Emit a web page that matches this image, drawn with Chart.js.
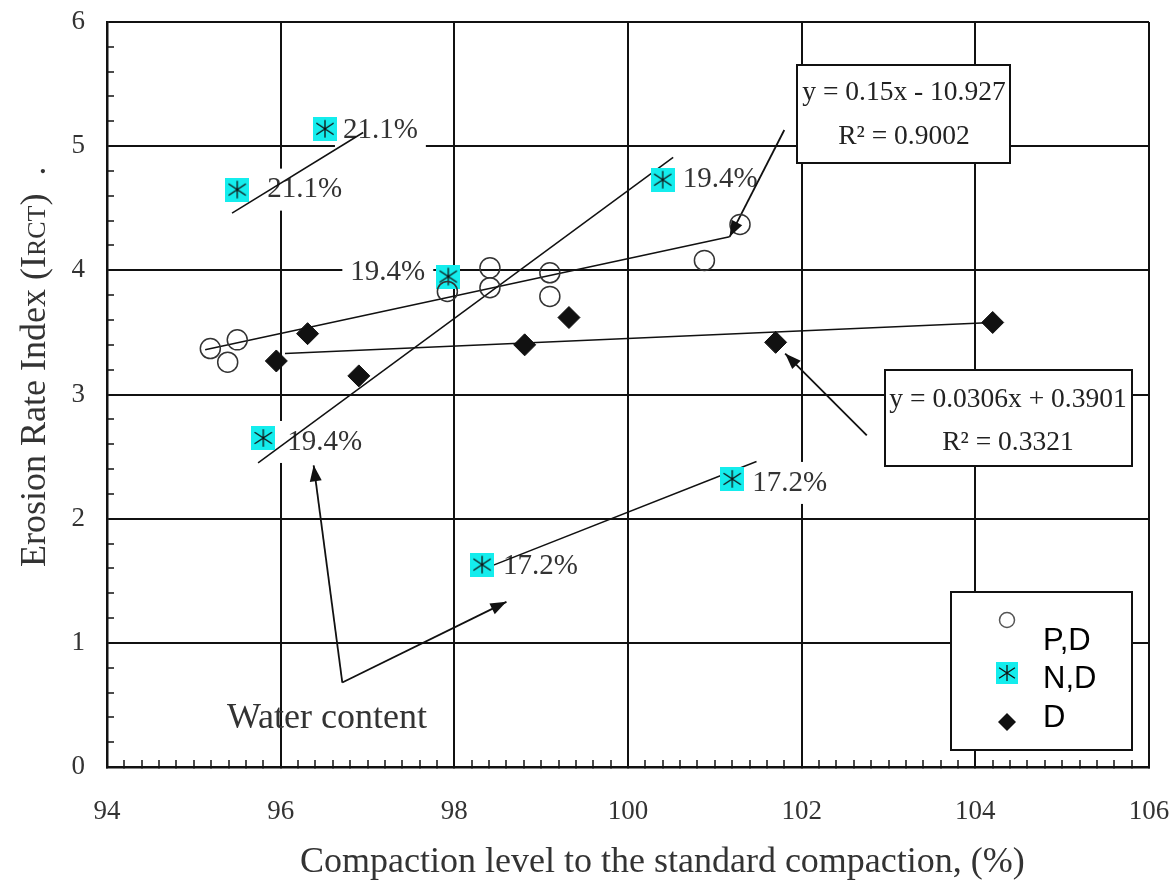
<!DOCTYPE html>
<html>
<head>
<meta charset="utf-8">
<script src="https://cdn.jsdelivr.net/npm/chart.js@4.4.1/dist/chart.umd.min.js"></script>
<style>
  html, body { margin: 0; padding: 0; background: #fff; }
  #wrap { width: 1176px; height: 881px; }
</style>
</head>
<body>
<div id="wrap"><canvas id="chart" width="1176" height="881"></canvas></div>
<script>
// ---- data ----
const pdX = [95.19, 95.39, 95.50, 97.92, 98.41, 98.41, 99.10, 99.10, 100.88, 101.29];
const pdY = [3.37, 3.26, 3.44, 3.83, 4.02, 3.86, 3.98, 3.79, 4.08, 4.37];

const ndX = [96.51, 95.50, 97.93, 100.40, 95.80, 98.32, 101.20];
const ndY = [5.14, 4.65, 3.95, 4.73, 2.65, 1.63, 2.32];
const ndLabel = ['21.1%', '21.1%', '19.4%', '19.4%', '19.4%', '17.2%', '17.2%'];

const dX = [95.95, 96.31, 96.90, 98.81, 99.32, 101.70, 104.20];
const dY = [3.27, 3.49, 3.15, 3.40, 3.62, 3.42, 3.58];

// trend lines, endpoints as drawn in the figure
const pdFitX = [95.13, 101.17], pdFitY = [3.36, 4.27];
const dFitX = [96.05, 104.20], dFitY = [3.33, 3.58];
const nd21X = [95.44, 96.95], nd21Y = [4.46, 5.11];
const nd19X = [95.74, 100.52], nd19Y = [2.45, 4.91];
const nd17X = [98.32, 101.48], nd17Y = [1.59, 2.46];

// callout arrows: [tail, tip]
const arrowPdX = [101.80, 101.17], arrowPdY = [5.13, 4.27];
const arrowDX = [102.75, 101.81], arrowDY = [2.67, 3.33];
const waterAX = [96.71, 96.38], waterAY = [0.68, 2.43];
const waterBX = [96.71, 98.60], waterBY = [0.68, 1.33];

const seriesNames = ['P,D', 'N,D', 'D'];
const eqPd = ['y = 0.15x - 10.927', 'R\u00B2 = 0.9002'];
const eqD = ['y = 0.0306x + 0.3901', 'R\u00B2 = 0.3321'];
const noteText = 'Water content';
const xTitle = 'Compaction level to the standard compaction, (%)';
const yTitleParts = ['Erosion Rate Index (I', 'RCT', ')  .'];
const xRange = [94, 106], yRange = [0, 6];
const xMajor = 2, yMajor = 1, minorStep = 0.2;

// ---- layout / style ----
const SERIF = '"Liberation Serif", "Times New Roman", serif';
const SANS = '"Liberation Sans", Arial, sans-serif';
const INK = '#111';
const TXT = '#333';
const CYAN = '#14eded';
// label offset from its marker centre (px); negative dx = right aligned
const LABEL_OFFSETS = [[18, 2], [30, 0], [-23, -4], [20, 0], [24, 4], [21, 2], [20, 4]];
const BOX_PD = { x: 797, y: 65, w: 213, h: 98, cx: 904, b1: 100, b2: 144 };
const BOX_D = { x: 885, y: 370, w: 247, h: 96, cx: 1008, b1: 407, b2: 450 };
const LEGEND = { x: 951, y: 592, w: 181, h: 158, mx: 1007, tx: 1043 };

const xy = (xs, ys) => xs.map((x, i) => ({ x, y: ys[i] }));
const isMajor = (v, step) => Math.abs(v / step - Math.round(v / step)) < 1e-6;

function ndMarker(size) {
  const c = document.createElement('canvas');
  c.width = size; c.height = size;
  const g = c.getContext('2d');
  g.fillStyle = CYAN;
  g.fillRect(0, 0, size, size);
  g.strokeStyle = INK;
  g.lineWidth = 1.3;
  const m = size / 2, a = size * 0.36, b = size * 0.24;
  g.beginPath();
  g.moveTo(m, m - a); g.lineTo(m, m + a);
  g.moveTo(m - a, m - b); g.lineTo(m + a, m + b);
  g.moveTo(m + a, m - b); g.lineTo(m - a, m + b);
  g.stroke();
  return c;
}
const ndImg = ndMarker(24);
const ndImgSmall = ndMarker(22);

function lineSet(xs, ys, width, extra) {
  return Object.assign({
    data: xy(xs, ys),
    showLine: true,
    borderColor: INK,
    borderWidth: width,
    pointRadius: 0,
    order: 2,
  }, extra || {});
}

const annotations = {
  id: 'annotations',
  beforeDatasetsDraw(chart) {
    const ctx = chart.ctx;
    const meta = chart.getDatasetMeta(1);
    ctx.save();
    ctx.font = '29px ' + SERIF;
    ctx.textBaseline = 'middle';
    ndLabel.forEach((t, i) => {
      const p = meta.data[i];
      const [dx, dy] = LABEL_OFFSETS[i];
      const w = ctx.measureText(t).width;
      const left = dx < 0 ? p.x + dx - w : p.x + dx;
      const y = p.y + dy;
      ctx.fillStyle = '#fff';
      ctx.fillRect(left - 8, y - 21, w + 16, 42);
      ctx.fillStyle = TXT;
      ctx.textAlign = 'left';
      ctx.fillText(t, left, y);
    });
    ctx.font = '36px ' + SERIF;
    ctx.fillStyle = TXT;
    ctx.textBaseline = 'alphabetic';
    ctx.fillText(noteText, 227, 728);
    ctx.restore();
  },
  afterDatasetsDraw(chart) {
    const ctx = chart.ctx;
    ctx.save();
    // arrow heads
    chart.data.datasets.forEach((ds, i) => {
      if (!ds.arrow) return;
      const pts = chart.getDatasetMeta(i).data;
      const a = pts[0], b = pts[pts.length - 1];
      const ang = Math.atan2(b.y - a.y, b.x - a.x);
      const L = 16, W = 6;
      ctx.fillStyle = INK;
      ctx.beginPath();
      ctx.moveTo(b.x, b.y);
      ctx.lineTo(b.x - L * Math.cos(ang) + W * Math.sin(ang), b.y - L * Math.sin(ang) - W * Math.cos(ang));
      ctx.lineTo(b.x - L * Math.cos(ang) - W * Math.sin(ang), b.y - L * Math.sin(ang) + W * Math.cos(ang));
      ctx.closePath();
      ctx.fill();
    });
    // equation boxes
    [[BOX_PD, eqPd], [BOX_D, eqD]].forEach(([bx, lines]) => {
      ctx.fillStyle = '#fff';
      ctx.fillRect(bx.x, bx.y, bx.w, bx.h);
      ctx.strokeStyle = INK;
      ctx.lineWidth = 2;
      ctx.strokeRect(bx.x, bx.y, bx.w, bx.h);
      ctx.fillStyle = '#222';
      ctx.font = '27.5px ' + SERIF;
      ctx.textAlign = 'center';
      ctx.textBaseline = 'alphabetic';
      ctx.fillText(lines[0], bx.cx, bx.b1);
      ctx.fillText(lines[1], bx.cx, bx.b2);
    });
    // legend
    const lg = LEGEND;
    ctx.fillStyle = '#fff';
    ctx.fillRect(lg.x, lg.y, lg.w, lg.h);
    ctx.strokeStyle = INK;
    ctx.lineWidth = 2;
    ctx.strokeRect(lg.x, lg.y, lg.w, lg.h);
    ctx.strokeStyle = '#555';
    ctx.lineWidth = 1.5;
    ctx.beginPath();
    ctx.arc(lg.mx, 620, 7.5, 0, Math.PI * 2);
    ctx.stroke();
    ctx.drawImage(ndImgSmall, lg.mx - 11, 673 - 11);
    ctx.fillStyle = INK;
    ctx.beginPath();
    ctx.moveTo(lg.mx - 9, 722); ctx.lineTo(lg.mx, 713);
    ctx.lineTo(lg.mx + 9, 722); ctx.lineTo(lg.mx, 731);
    ctx.closePath();
    ctx.fill();
    ctx.font = '31px ' + SANS;
    ctx.textAlign = 'left';
    ctx.fillStyle = '#000';
    ctx.fillText(seriesNames[0], lg.tx, 650);
    ctx.fillText(seriesNames[1], lg.tx, 688);
    ctx.fillText(seriesNames[2], lg.tx, 727);
    ctx.restore();
  },
  afterDraw(chart) {
    const ctx = chart.ctx;
    ctx.save();
    ctx.fillStyle = TXT;
    ctx.textBaseline = 'alphabetic';
    ctx.textAlign = 'left';
    ctx.font = '36px ' + SERIF;
    ctx.fillText(xTitle, 300, 872);
    ctx.translate(45, 567);
    ctx.rotate(-Math.PI / 2);
    let x = 0;
    yTitleParts.forEach((t, i) => {
      ctx.font = (i === 1 ? '26px ' : '36px ') + SERIF;
      ctx.fillText(t, x, 0);
      x += ctx.measureText(t).width;
    });
    ctx.restore();
  },
};

function axis(range, major, labelPad, fit) {
  return {
    type: 'linear',
    min: range[0],
    max: range[1],
    afterFit: fit,
    border: { color: INK, width: 2.5 },
    grid: {
      color: (c) => (c.tick && isMajor(c.tick.value, major) ? INK : 'rgba(0,0,0,0)'),
      lineWidth: 2,
      tickColor: INK,
      tickWidth: 1.5,
      tickLength: -7,
    },
    ticks: {
      stepSize: minorStep,
      autoSkip: false,
      maxRotation: 0,
      padding: labelPad,
      color: TXT,
      font: { family: SERIF, size: 27 },
      callback: (v) => (isMajor(v, major) ? String(Math.round(v)) : ''),
    },
  };
}

new Chart(document.getElementById('chart'), {
  type: 'scatter',
  data: {
    datasets: [
      { label: seriesNames[0], data: xy(pdX, pdY), pointStyle: 'circle', pointRadius: 10,
        borderColor: '#333', borderWidth: 1.5, backgroundColor: 'rgba(0,0,0,0)', order: 0 },
      { label: seriesNames[1], data: xy(ndX, ndY), pointStyle: ndImg, pointRadius: 12, order: 0 },
      { label: seriesNames[2], data: xy(dX, dY), pointStyle: 'rectRot', pointRadius: 11,
        backgroundColor: INK, borderColor: INK, borderWidth: 1, order: 0 },
      lineSet(pdFitX, pdFitY, 1.5),
      lineSet(dFitX, dFitY, 1.5),
      lineSet(nd21X, nd21Y, 1.5),
      lineSet(nd19X, nd19Y, 1.5),
      lineSet(nd17X, nd17Y, 1.5),
      lineSet(arrowPdX, arrowPdY, 1.8, { arrow: true }),
      lineSet(arrowDX, arrowDY, 1.8, { arrow: true }),
      lineSet(waterAX, waterAY, 1.8, { arrow: true }),
      lineSet(waterBX, waterBY, 1.8, { arrow: true }),
    ],
  },
  options: {
    responsive: false,
    animation: false,
    layout: { padding: 0 },
    plugins: { legend: { display: false }, tooltip: { enabled: false } },
    scales: {
      // fixed axis band sizes and edge padding so the plot area sits at 107..1149 x 22..767
      x: axis(xRange, xMajor, 36, (s) => { s.height = 114; s.paddingLeft = 0; s.paddingRight = 27; }),
      y: axis(yRange, yMajor, 29, (s) => { s.width = 107; s.paddingTop = 22; s.paddingBottom = 0; }),
    },
  },
  plugins: [annotations],
});
</script>
</body>
</html>
